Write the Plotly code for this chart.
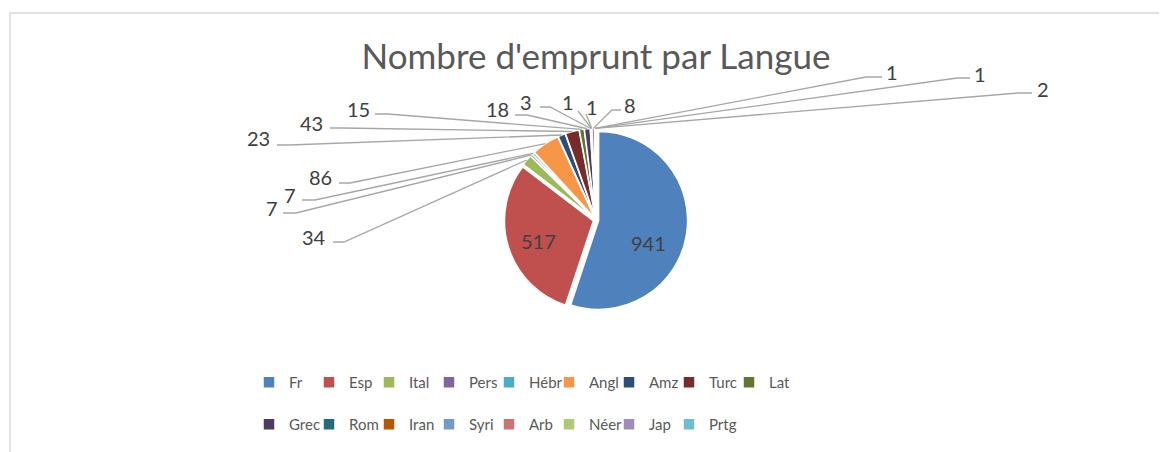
import math
import plotly.graph_objects as go

# ---------------- data ----------------
categories = ["Fr", "Esp", "Ital", "Pers", "Hébr", "Angl", "Amz", "Turc", "Lat",
              "Grec", "Rom", "Iran", "Syri", "Arb", "Néer", "Jap", "Prtg"]
values = [941, 517, 34, 7, 7, 86, 23, 43, 15, 18, 3, 1, 1, 8, 1, 1, 2]
colors = ["#4F81BD", "#C0504D", "#9BBB59", "#8064A2", "#4BACC6", "#F79646",
          "#2C4D75", "#772C2A", "#5F7530", "#4D3B62", "#276A7C", "#B65708",
          "#729ACA", "#CD7371", "#AFC97A", "#9F8CBA", "#6FBDD1"]
title_text = "Nombre d'emprunt par Langue"

# ---------------- layout geometry (screen pixels) ----------------
W, H = 1167, 452
OFF = 8                      # default page body margin
ML, MR = 200, 407            # plot area 560 px wide -> legend wraps after 9 items
PW = W - ML - MR
CX, CY, R = 596.0, 220.0, 89.0
PULL = 0.03
RD = R * (1 + PULL)


def px2x(px):
    return (px - OFF - ML) / PW


def px2y(py):
    return 1 - (py - OFF) / H


# label placement: (text centre x, text centre y, leader: (side, start x, line y, elbow x))
label_pos = {
    "Fr":   (648, 243, None),
    "Esp":  (538, 241, None),
    "Ital": (314, 237, ("L", 333, 242, 344)),
    "Pers": (272, 208, ("L", 283, 213, 296)),
    "Hébr": (290, 195, ("L", 302, 200, 315)),
    "Angl": (320, 177, ("L", 339, 183, 350)),
    "Amz":  (258, 138, ("L", 277, 145, 289)),
    "Turc": (311, 123, ("L", 330, 128, 342)),
    "Lat":  (358, 109, ("L", 375, 114, 388)),
    "Grec": (497, 109, ("L", 515, 115, 527)),
    "Rom":  (526, 102, ("L", 540, 107, 550)),
    "Iran": (568, 102, ("D", 578, 111, 578)),
    "Syri": (592, 107, ("D", 586, 114, 586)),
    "Arb":  (630, 105, ("R", 621, 110, 612)),
    "Néer": (892, 72, ("R", 882, 77, 866)),
    "Jap":  (980, 74, ("R", 970, 78, 957)),
    "Prtg": (1043, 89, ("R", 1032, 93, 1018)),
}

FONT = "Lato, Carlito, sans-serif"

fig = go.Figure()
fig.add_trace(go.Pie(
    labels=[c + "<br> " for c in categories],
    values=values,
    sort=False,
    direction="clockwise",
    rotation=0,
    pull=[PULL] * len(values),
    marker=dict(colors=colors, line=dict(color="white", width=1.5)),
    textinfo="none",
    hoverinfo="label+value",
    domain=dict(x=[px2x(CX - RD), px2x(CX + RD)], y=[px2y(CY + RD), px2y(CY - RD)]),
    showlegend=True,
))

# leader lines + labels, endpoints from the data angles
total = sum(values)
cum = 0
annotations = []
shapes = []
for cat, v in zip(categories, values):
    mid = (cum + v / 2) / total * 2 * math.pi
    cum += v
    tx, ty, line = label_pos[cat]
    annotations.append(dict(
        x=px2x(tx), y=px2y(ty), xref="paper", yref="paper",
        text=str(v), showarrow=False, xanchor="center", yanchor="middle",
        font=dict(family=FONT, size=20, color="#404040"),
    ))
    if line is None:
        continue
    side, sx, sy, ex = line
    ptx = CX + RD * math.sin(mid)
    pty = CY - RD * math.cos(mid)
    path = (f"M{px2x(sx)},{px2y(sy)} L{px2x(ex)},{px2y(sy)} "
            f"L{px2x(ptx)},{px2y(pty)}")
    shapes.append(dict(type="path", xref="paper", yref="paper", path=path,
                       line=dict(color="#A6A6A6", width=1.3)))

# chart-area border
shapes.append(dict(type="rect", xref="paper", yref="paper",
                   x0=px2x(10), x1=px2x(1185), y0=px2y(470), y1=px2y(13),
                   line=dict(color="#D9D9D9", width=1.5), fillcolor="rgba(0,0,0,0)",
                   layer="below"))

fig.update_layout(
    width=W, height=H,
    margin=dict(l=ML, r=MR, t=0, b=0, autoexpand=False),
    paper_bgcolor="white", plot_bgcolor="white",
    title=dict(text=title_text, x=px2x(596), xref="paper", xanchor="center",
               y=px2y(57), yref="container", yanchor="middle",
               font=dict(family=FONT, size=35, color="#595959")),
    legend=dict(orientation="h", x=px2x(249), xanchor="left",
                y=px2y(366), yanchor="top", valign="top",
                entrywidth=15, traceorder="normal",
                font=dict(family=FONT, size=15, color="#595959")),
    annotations=annotations,
    shapes=shapes,
)

fig.write_html("out.html")
